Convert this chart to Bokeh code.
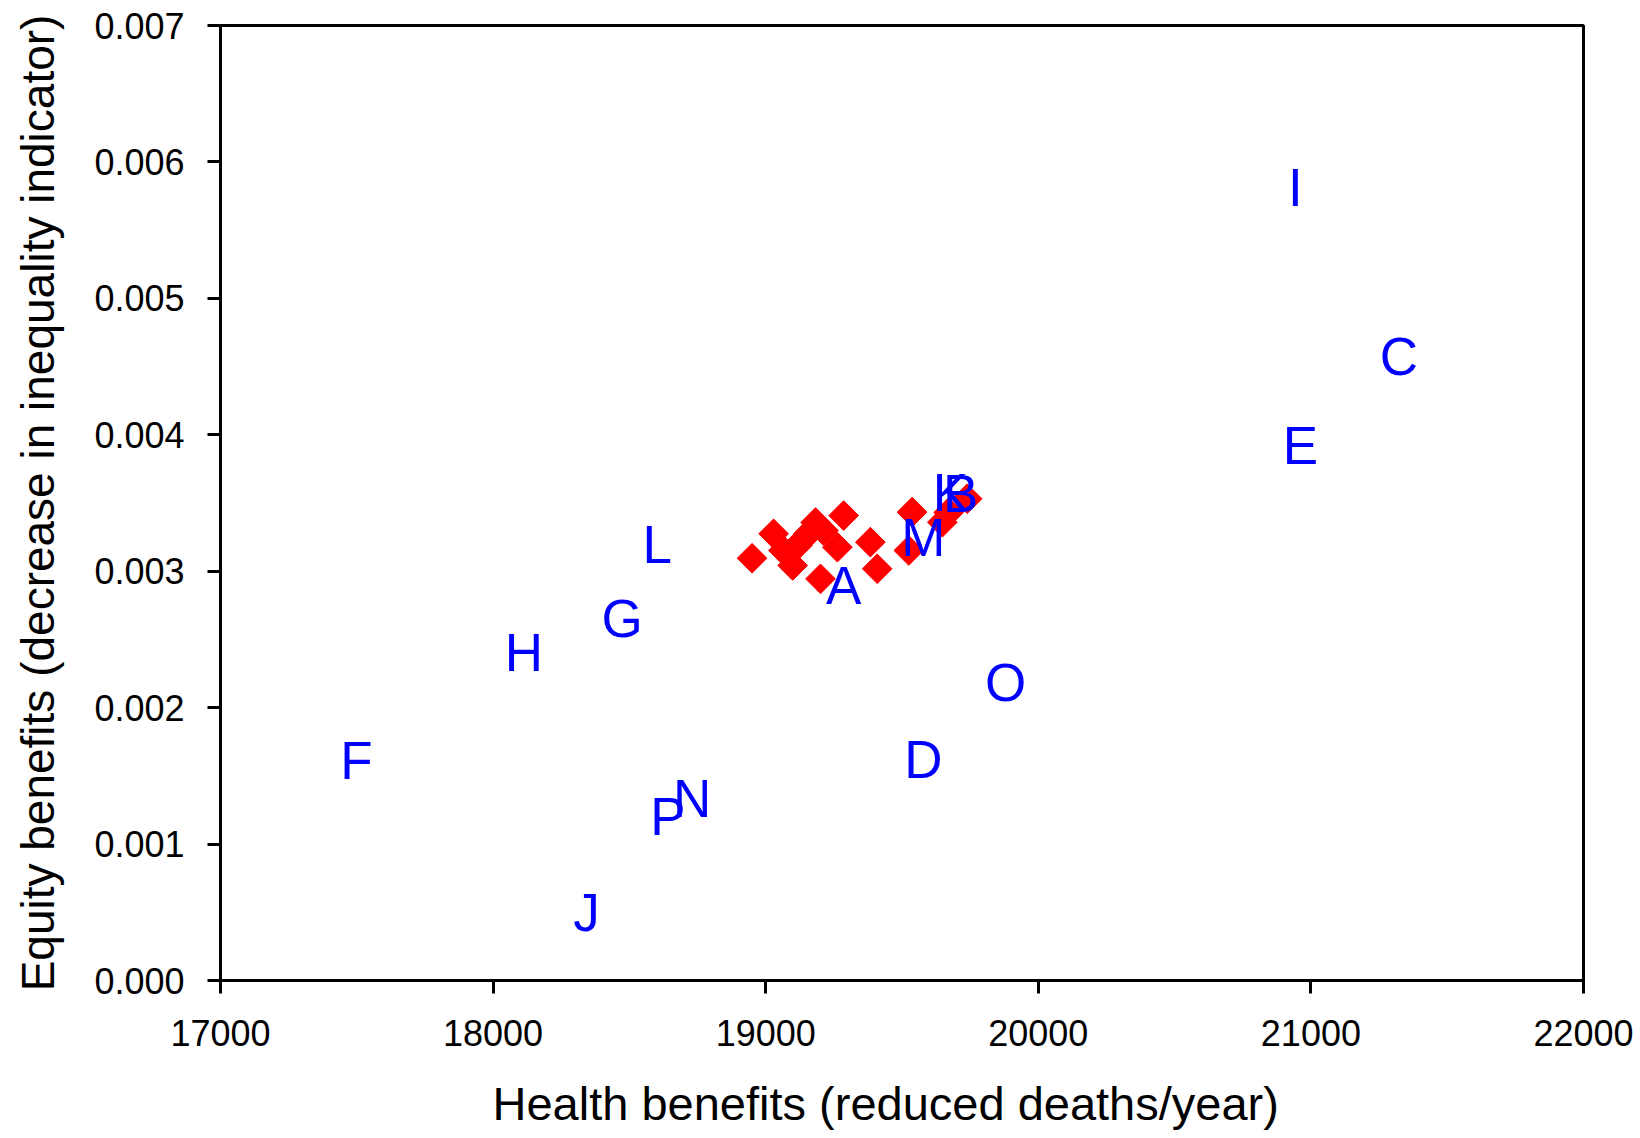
import numpy as np
from bokeh.plotting import figure
from bokeh.models import Range1d, FixedTicker, ColumnDataSource, Title
from bokeh.core.properties import value
from bokeh.embed import file_html
from bokeh.resources import INLINE

# Labelled scenarios
labels = ["A", "B", "C", "D", "E", "F", "G", "H", "I", "J", "K", "L", "M", "N", "O", "P"]
label_x = [19286, 19715, 21323, 19578, 20962, 17499, 18473, 18113, 20943, 18343,
           19678, 18602, 19578, 18730, 19880, 18641]
label_y = [0.002893, 0.003570, 0.004574, 0.001620, 0.003921, 0.001613, 0.002653, 0.002404,
           0.005809, 0.000501, 0.003577, 0.003196, 0.003247, 0.001334, 0.002186, 0.001202]

# Red diamond points
dia_x = [18950, 19029, 19065, 19099, 19116, 19157, 19183, 19212, 19263, 19286,
         19201, 19384, 19409, 19537, 19525, 19648, 19671, 19739]
dia_y = [0.003095, 0.003274, 0.003152, 0.003042, 0.003188, 0.003276, 0.003357, 0.003298,
         0.003176, 0.003408, 0.002944, 0.003213, 0.003018, 0.003433, 0.003152, 0.003359,
         0.003430, 0.003531]

x_ticks = [17000, 18000, 19000, 20000, 21000, 22000]
y_ticks = [0.000, 0.001, 0.002, 0.003, 0.004, 0.005, 0.006, 0.007]
y_tick_labels = ["0.000", "0.001", "0.002", "0.003", "0.004", "0.005", "0.006", "0.007"]

x_title = "Health benefits (reduced deaths/year)"
y_title = "Equity benefits (decrease in inequality indicator)"

FONT = "Liberation Sans"

p = figure(output_backend="svg", toolbar_location=None,
           frame_width=1363, frame_height=955,
           min_border_left=220, min_border_top=25, min_border_right=52, min_border_bottom=158,
           x_range=Range1d(17000, 22000), y_range=Range1d(0, 0.007))

p.xgrid.visible = False
p.ygrid.visible = False
p.outline_line_color = "black"
p.outline_line_width = 3
p.outline_line_alpha = 1.0

p.scatter(dia_x, dia_y, marker="square", angle=np.pi / 4, size=21,
          fill_color="#FF0000", line_color="#FF0000")

src = ColumnDataSource(dict(x=label_x, y=label_y, t=labels))
p.text(x="x", y="y", text="t", source=src, text_align="center", text_baseline="middle",
       text_color="#0000FF", text_font=value(FONT), text_font_size="53px")

for ax in (p.xaxis[0], p.yaxis[0]):
    ax.axis_line_width = 3
    ax.axis_line_color = "black"
    ax.major_tick_line_width = 3
    ax.major_tick_line_color = "black"
    ax.major_tick_in = 0
    ax.major_tick_out = 13
    ax.minor_tick_line_color = None
    ax.major_label_text_font = FONT
    ax.major_label_text_font_size = "36px"
    ax.major_label_text_color = "black"
    ax.axis_label_text_font = FONT
    ax.axis_label_text_font_style = "normal"
    ax.axis_label_text_color = "black"

p.xaxis[0].ticker = FixedTicker(ticks=x_ticks)
p.yaxis[0].ticker = FixedTicker(ticks=y_ticks)
p.yaxis[0].major_label_overrides = {t: s for t, s in zip(y_ticks, y_tick_labels)}
p.yaxis[0].axis_label = y_title
p.yaxis[0].axis_label_text_font_size = "46px"
p.xaxis[0].major_label_standoff = 26
p.yaxis[0].major_label_standoff = 23
p.yaxis[0].axis_label_standoff = 27

xt = Title(text=x_title, align="left", offset=272, vertical_align="top", standoff=56,
           text_font=FONT, text_font_size="47px", text_font_style="normal",
           text_color="black")
p.add_layout(xt, "below")

open("out.html", "w").write(file_html(p, INLINE))
